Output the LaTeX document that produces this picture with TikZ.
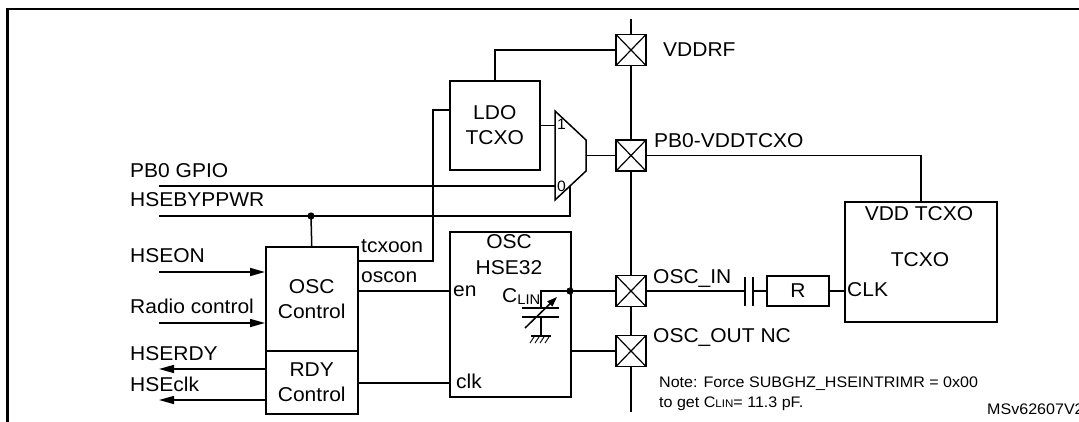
\documentclass[tikz,border=0pt]{standalone}
\usepackage{fontspec}
\setmainfont{Liberation Sans}[FakeStretch=1.05]
\usetikzlibrary{arrows.meta,calc}
\newcommand\lblfont{\fontsize{20}{25}\selectfont}
\newcommand\notefont{\fontsize{15.3}{18}\selectfont}
\newcommand\smallfont{\fontsize{15}{15}\selectfont}
\begin{document}
\begin{tikzpicture}[x=1pt,y=-1pt,
  wire/.style={line width=1.5pt},
  plate/.style={line width=1.8pt},
  box/.style={draw,line width=1.5pt,inner sep=0pt,anchor=north west,align=center,font=\lblfont},
  pad/.style={draw,line width=1.5pt,fill=white,minimum width=30pt,minimum height=31pt,inner sep=0pt,
    path picture={\draw[line width=1.2pt] (path picture bounding box.north west)--(path picture bounding box.south east)
      (path picture bounding box.north east)--(path picture bounding box.south west);}},
  lab/.style={anchor=base west,inner sep=0pt,font=\lblfont},
  note/.style={anchor=base west,inner sep=0pt,font=\notefont},
  arr/.style={wire,-{Triangle[length=15pt,width=8pt]}},
]
\useasboundingbox (0,0) rectangle (1079,421);
% frame
\draw[line width=2.6pt] (7.5,440) -- (7.5,9) -- (1100,9);

% pin line (behind pads)
\coordinate (pinTop) at (631,19);
\coordinate (pinBot) at (631,412);
\draw[wire] (pinTop) -- (pinBot);

% boxes
\node[box,minimum width=90pt,minimum height=89pt] (ldo) at (449,80) {LDO\\TCXO};
\node[box,minimum width=92pt,minimum height=104pt] (oscctl) at (265,246) {OSC\\Control};
\node[box,minimum width=92pt,minimum height=63pt] (rdyctl) at (265,350) {RDY\\Control};
\node[box,minimum width=121pt,minimum height=165pt] (hse) at (449,231) {};
\node[box,minimum width=152pt,minimum height=120pt] (tcxo) at (844,201) {};
\node[draw,line width=1.5pt,inner sep=0pt,minimum width=62pt,minimum height=30pt,font=\lblfont] (res) at (798,291) {R};

% pads
\node[pad] (pVDDRF) at (631,50) {};
\node[pad] (pPB0) at (631,155.5) {};
\node[pad] (pIN) at (631,291) {};
\node[pad] (pOUT) at (631,351) {};

% mux
\coordinate (m1) at (555,111);
\coordinate (m2) at (586,140);
\coordinate (m3) at (586,171);
\coordinate (m4) at (555,200);
\coordinate (mout) at (586,155.5);
\draw[wire] (m1) -- (m2) -- (m3) -- (m4) -- cycle;
\node[anchor=west,inner sep=0pt,font=\smallfont] (mux1) at (557,124.5) {1};
\node[anchor=west,inner sep=0pt,font=\smallfont] (mux0) at (557,186) {0};
\draw[wire] (mout) -- (pPB0.west);
\draw[wire] (ldo.east) -- (ldo.east -| m1);

% PB0 GPIO and HSEBYPPWR
\coordinate (pbS) at (159,186);
\draw[wire] (pbS) -- (pbS -| m1);
\coordinate (hbS) at (159,216);
\coordinate (sel) at ($(m4)!0.48!(m3)$);
\draw[wire] (hbS) -- (hbS -| sel) -- (sel);
\coordinate (jn) at (311,216);
\fill (jn) circle (3.6pt);
\draw[wire] (jn) -- (oscctl.north);

% LDO to VDDRF
\draw[wire] (ldo.north) |- (pVDDRF.west);

% tcxoon
\coordinate (tcxA) at ($(oscctl.north east)+(0,15)$);
\coordinate (tcxB) at (433,110);
\draw[wire] (tcxA) -| (tcxB) -- (tcxB -| ldo.west);

% oscon -> en, clk
\coordinate (enP) at (449,291);
\draw[wire] (enP -| oscctl.east) -- (enP);
\coordinate (clkP) at (449,383);
\draw[wire] (clkP -| rdyctl.east) -- (clkP);

% left arrows
\coordinate (hseonS) at (159,272);
\draw[arr] (hseonS) -- (hseonS -| oscctl.west);
\coordinate (radioS) at (159,323);
\draw[arr] (radioS) -- (radioS -| oscctl.west);
\coordinate (rdyE) at (159,369);
\draw[arr] (rdyE -| rdyctl.west) -- (rdyE);
\coordinate (clkE) at (159,400);
\draw[arr] (clkE -| rdyctl.west) -- (clkE);

% internal C_LIN
\coordinate (dot2) at (570,291);
\coordinate (cA) at (541,291);
\coordinate (cT) at (541,308);
\coordinate (cB) at (541,317);
\coordinate (gnd) at (541,336);
\draw[wire] (dot2) -- (cA) -- (cT);
\draw[plate] (522,308) -- (559,308) (522,317) -- (559,317);
\draw[wire] (cB) -- (gnd);
\draw[wire] (531,336) -- (551,336);
\foreach \i in {0,1,2,3} \draw[line width=0.9pt] (534+5*\i,337) -- (530+5*\i,343);
\draw[wire,-{Triangle[length=10pt,width=7pt]}] (525,328) -- (557,297);
\fill (dot2) circle (3.6pt);
\draw[wire] (dot2) -- (pIN.west);
\coordinate (outP) at (570,351);
\draw[wire] (outP) -- (pOUT.west);

% PB0-VDDTCXO to TCXO
\draw[wire] (pPB0.east) -| (tcxo.north);

% OSC_IN chain
\coordinate (c1) at (745,291);
\coordinate (c2) at (753,291);
\draw[wire] (pIN.east) -- (c1);
\draw[plate] (745,277) -- (745,306) (753,277) -- (753,306);
\draw[wire] (c2) -- (res.west);
\draw[wire] (res.east) -- (res.east -| tcxo.west);

% labels
\node[lab] (tPB0) at (130,177) {PB0 GPIO};
\node[lab] (tHB) at (130,206) {HSEBYPPWR};
\node[lab] (tHSEON) at (130,262) {HSEON};
\node[lab] (tRadio) at (130,313) {Radio control};
\node[lab] (tRDY) at (130,360) {HSERDY};
\node[lab] (tclk) at (130,391) {HSEclk};
\node[lab] (ttcx) at (361,252) {tcxoon};
\node[lab] (toscon) at (361,282) {oscon};
\node[anchor=center,inner sep=0pt,font=\lblfont] (tosc) at (509,241.5) {OSC};
\node[anchor=center,inner sep=0pt,font=\lblfont] (thse) at (509,268) {HSE32};
\node[lab] (ten) at (453,296.5) {en};
\node[lab] (tclkin) at (456,388) {clk};
\node[lab] (tclin) at (502,302) {C\raisebox{-0.25ex}{\fontsize{14}{14}\selectfont LIN}};
\node[lab] (tVDDRF) at (663,56.5) {VDDRF};
\node[lab] (tPBV) at (654,147) {PB0-VDDTCXO};
\node[lab] (tIN) at (653,283) {OSC\_IN};
\node[lab] (tOUT) at (653,342) {OSC\_OUT NC};
\node[anchor=center,inner sep=0pt,font=\lblfont] (tvdd) at (919,214) {VDD TCXO};
\node[anchor=center,inner sep=0pt,font=\lblfont] (ttcxo) at (920,260) {TCXO};
\node[anchor=west,inner sep=0pt,font=\lblfont] (tCLK) at (847,290) {CLK};
\node[note] (tnote1) at (659,387) {Note: Force SUBGHZ\_HSEINTRIMR = 0x00};
\node[note] (tnote2) at (659,407) {to get C{\fontsize{11}{11}\selectfont LIN}= 11.3 pF.};
\node[note] (tms) at (987,414) {MSv62607V2};
\end{tikzpicture}
\end{document}
